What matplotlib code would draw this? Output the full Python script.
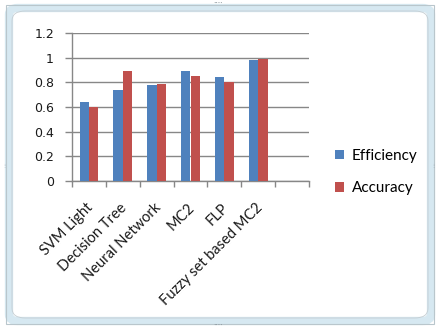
import matplotlib
matplotlib.use("Agg")
import matplotlib.pyplot as plt
import matplotlib.transforms as mtransforms
import numpy as np
from matplotlib.patches import FancyBboxPatch

# Classifier comparison values
methods = ["SVM Light", "Decision Tree", "Neural Network", "MC2", "FLP",
           "Fuzzy set based MC2"]
efficiency = [0.64, 0.74, 0.78, 0.89, 0.84, 0.98]
accuracy = [0.60, 0.89, 0.79, 0.85, 0.80, 0.99]
n_slots = 7  # axis leaves one empty slot after the last method

plt.rcParams['font.family'] = ['Lato', 'DejaVu Sans']

fig = plt.figure(figsize=(4.37, 3.30), dpi=100)
fig.patch.set_facecolor("white")

# chart-area frame
frame = FancyBboxPatch((9 / 437, 9 / 330), 422 / 437, 313 / 330,
                       boxstyle="round,pad=0,rounding_size=0.02",
                       transform=fig.transFigure, facecolor="none",
                       edgecolor="#d6e8f1", linewidth=6, zorder=0)
fig.patches.append(frame)
outer = FancyBboxPatch((6 / 437, 6 / 330), 428 / 437, 319 / 330,
                       boxstyle="square,pad=0", transform=fig.transFigure,
                       facecolor="none", edgecolor="#b9c6cc", linewidth=0.8)
fig.patches.append(outer)
inner = FancyBboxPatch((12 / 437, 12 / 330), 416 / 437, 307 / 330,
                       boxstyle="round,pad=0,rounding_size=0.03",
                       transform=fig.transFigure, facecolor="none",
                       edgecolor="#c4cdd2", linewidth=0.6)
fig.patches.append(inner)
for (fx, fy, s) in [(218 / 437, 326 / 330, "••••"), (218 / 437, 4 / 330, "••••"),
                    (4 / 437, 165 / 330, "⋮"), (433 / 437, 165 / 330, "⋮")]:
    fig.text(fx, fy, s, fontsize=3, color="#8a969c", ha="center", va="center",
             family="DejaVu Sans")

ax = fig.add_axes([72 / 437, 1 - 181 / 330, 237 / 437, 148 / 330])

x = np.arange(len(methods))
w = 0.275
ax.bar(x - w / 2, efficiency, w, color="#4f81bd", label="Efficiency", zorder=3)
ax.bar(x + w / 2, accuracy, w, color="#c0504d", label="Accuracy", zorder=3)

ax.set_xlim(-0.5, n_slots - 0.5)
ax.set_ylim(0, 1.2)
yt = np.arange(0, 1.21, 0.2)
ax.set_yticks(yt)
ax.set_yticklabels(["0", "0.2", "0.4", "0.6", "0.8", "1", "1.2"],
                   family="DejaVu Sans")
ax.yaxis.grid(True, color="#878787", linewidth=1.0, zorder=0)
ax.set_axisbelow(True)

ax.set_xticks(x)
ax.set_xticklabels(methods, rotation=45, ha="right", va="top",
                   rotation_mode="anchor")
ax.set_xticks(np.arange(n_slots + 1) - 0.5, minor=True)
ax.tick_params(axis="x", which="major", length=0, pad=14, labelsize=10.5,
               labelcolor="#1a1a1a")
ax.tick_params(axis="x", which="minor", length=4, width=1, color="#878787")
ax.tick_params(axis="y", length=5, width=1, color="#878787", pad=8,
               labelsize=9, labelcolor="#1a1a1a")
# nudge the slanted labels a little to the left
shift = mtransforms.ScaledTranslation(-3 / 100, 0, fig.dpi_scale_trans)
for lbl in ax.get_xticklabels():
    lbl.set_transform(lbl.get_transform() + shift)

for side in ("top", "right"):
    ax.spines[side].set_visible(False)
for side in ("left", "bottom"):
    ax.spines[side].set_color("#878787")
    ax.spines[side].set_linewidth(1.0)

ax.legend(loc="center left", bbox_to_anchor=(321 / 437, 1 - 172 / 330),
          bbox_transform=fig.transFigure, frameon=False, fontsize=11,
          handlelength=0.6, handleheight=0.6, handletextpad=0.5,
          labelspacing=1.2)

fig.savefig("out.png", dpi=100)
